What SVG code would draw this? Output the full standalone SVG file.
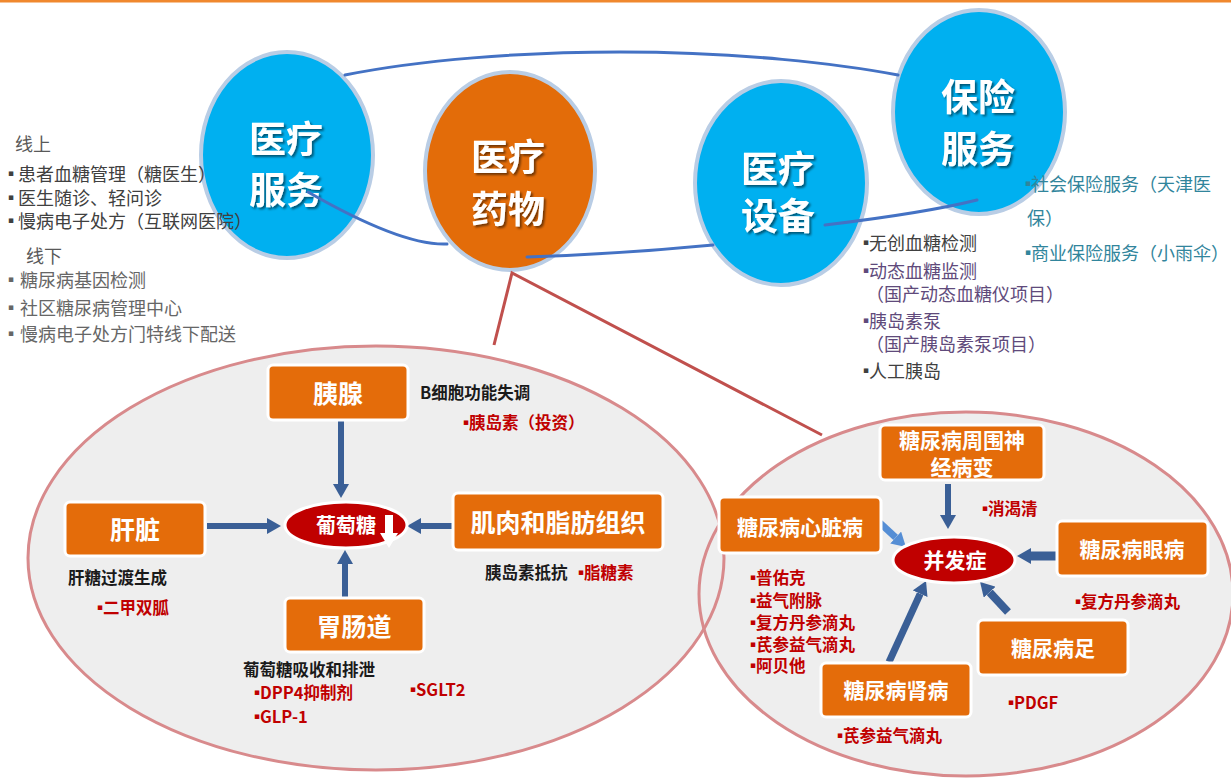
<svg xmlns="http://www.w3.org/2000/svg" width="1231" height="778" viewBox="0 0 1231 778">
<defs>
<style>
text{font-family:"Noto Sans CJK SC","Noto Sans",sans-serif;dominant-baseline:central}
tspan{dominant-baseline:central}
.big{font-size:37px;font-weight:700;fill:#fff;text-anchor:middle}
.bx{fill:#E46C0A;stroke:#fff;stroke-width:3}
.bt{font-size:25px;font-weight:700;fill:#fff;text-anchor:middle}
.bt2{font-size:21px;font-weight:700;fill:#fff;text-anchor:middle}
.lt{font-size:18px;font-weight:400}
.g1{fill:#404040}
.g2{fill:#666666}
.pu{fill:#604A7B}
.te{fill:#31859C}
.bk{font-size:16.5px;font-weight:700;fill:#1a1a1a}
.rd{font-size:16.5px;font-weight:700;fill:#C00000}
.bu{font-family:"DejaVu Sans",sans-serif;font-size:9px}
.arr{stroke:#3A5F96;fill:none}
.arl{stroke:#558ED5;fill:none}
.circ{stroke:#B9CDE5;stroke-width:4}
.blue{stroke:#4472C4;stroke-width:3;fill:none;stroke-linecap:round}
.red{stroke:#C0504D;stroke-width:3;fill:none}
</style>
<filter id="sh" x="-20%" y="-20%" width="140%" height="140%">
<feDropShadow dx="2" dy="2" stdDeviation="1.2" flood-color="#000" flood-opacity="0.5"/>
</filter>
<marker id="ah" viewBox="0 0 14 16" refX="0" refY="8" markerWidth="14" markerHeight="16" markerUnits="userSpaceOnUse" orient="auto">
<path d="M0,0 L14,8 L0,16 Z" fill="#3A5F96"/>
</marker>
<marker id="ahl" viewBox="0 0 14 16" refX="0" refY="8" markerWidth="14" markerHeight="16" markerUnits="userSpaceOnUse" orient="auto">
<path d="M0,0 L14,8 L0,16 Z" fill="#558ED5"/>
</marker>
</defs>
<rect x="0" y="0" width="1231" height="778" fill="#fff"/>
<rect x="0" y="0" width="1231" height="2.5" fill="#F0882E"/>

<!-- lower ellipses -->
<g id="ellipses">
<ellipse cx="966" cy="594" rx="267" ry="182" fill="#EEEEEE"/>
<ellipse cx="376" cy="558" rx="348" ry="212" fill="#EEEEEE"/>
<ellipse cx="966" cy="594" rx="267" ry="182" fill="none" stroke="#D88A8C" stroke-width="3"/>
<ellipse cx="376" cy="558" rx="348" ry="212" fill="none" stroke="#D88A8C" stroke-width="3"/>
</g>

<!-- top circles -->
<g id="n-yiliaofuwu">
<ellipse class="circ" cx="287" cy="155" rx="86" ry="103" fill="#00B0F0"/>
<text class="big" filter="url(#sh)"><tspan x="286" y="137">医疗</tspan><tspan x="286" y="188">服务</tspan></text>
</g>
<g id="n-yiliaoyaowu">
<ellipse class="circ" cx="510" cy="171" rx="85" ry="99" fill="#E36C09"/>
<text class="big" filter="url(#sh)"><tspan x="508" y="155">医疗</tspan><tspan x="508" y="207">药物</tspan></text>
</g>
<g id="n-yiliaoshebei">
<ellipse class="circ" cx="781" cy="183" rx="86" ry="102" fill="#00B0F0"/>
<text class="big" filter="url(#sh)"><tspan x="778" y="167">医疗</tspan><tspan x="778" y="214">设备</tspan></text>
</g>
<g id="n-baoxianfuwu">
<ellipse class="circ" cx="979" cy="112" rx="86" ry="102" fill="#00B0F0"/>
<text class="big" filter="url(#sh)"><tspan x="978" y="95">保险</tspan><tspan x="978" y="147">服务</tspan></text>
</g>

<!-- connectors -->
<g id="connectors">
<path class="blue" d="M345,75 C420,60 520,52 620,52 C740,52 840,64 898,75"/>
<path class="blue" d="M308,192 Q402,246 447,244"/>
<path class="blue" d="M527,257 Q620,254 713,245"/>
<path class="blue" d="M825,225 Q925,213 977,200"/>
<path class="red" d="M494,345 L512,273 L822,435"/>
<line class="arr" x1="341" y1="420" x2="341" y2="484" stroke-width="6" marker-end="url(#ah)"/>
<line class="arr" x1="207" y1="526" x2="267" y2="526" stroke-width="6" marker-end="url(#ah)"/>
<line class="arr" x1="453" y1="526" x2="421" y2="526" stroke-width="6" marker-end="url(#ah)"/>
<line class="arr" x1="345" y1="598" x2="345" y2="564" stroke-width="6" marker-end="url(#ah)"/>
<line class="arr" x1="948" y1="484" x2="948" y2="515" stroke-width="6" marker-end="url(#ah)"/>
<line class="arl" x1="880" y1="523" x2="895.7" y2="537.5" stroke-width="7" marker-end="url(#ahl)"/>
<line class="arr" x1="1058" y1="556" x2="1031" y2="556" stroke-width="9" marker-end="url(#ah)"/>
<line class="arr" x1="1008" y1="612" x2="989.6" y2="592.2" stroke-width="8" marker-end="url(#ah)"/>
<line class="arr" x1="889" y1="662" x2="920.2" y2="593.7" stroke-width="7" marker-end="url(#ah)"/>
</g>

<!-- left ellipse nodes -->
<g id="n-yixian">
<rect class="bx" x="268" y="365" width="140" height="55" rx="5"/>
<text class="bt" x="338" y="392">胰腺</text>
</g>
<g id="n-putaotang">
<ellipse cx="346" cy="525" rx="61" ry="23" fill="#C00000" stroke="#fff" stroke-width="3"/>
<text x="346" y="524" style="font-size:20px;font-weight:700;fill:#fff;text-anchor:middle">葡萄糖</text>
<rect x="385" y="515" width="8" height="19" fill="#fff"/>
<path d="M380,533 L398,533 L389,548 Z" fill="#fff"/>
</g>
<g id="n-ganzang">
<rect class="bx" x="65" y="502" width="140" height="54" rx="5"/>
<text class="bt" x="135" y="528">肝脏</text>
</g>
<g id="n-jirou">
<rect class="bx" x="453" y="493" width="210" height="57" rx="5"/>
<text class="bt" x="558" y="521">肌肉和脂肪组织</text>
</g>
<g id="n-weichangdao">
<rect class="bx" x="285" y="598" width="139" height="54" rx="5"/>
<text class="bt" x="354" y="625">胃肠道</text>
</g>

<!-- right ellipse nodes -->
<g id="n-bingfazheng">
<ellipse cx="954" cy="560" rx="61" ry="23" fill="#C00000" stroke="#fff" stroke-width="3"/>
<text class="bt2" x="955" y="559">并发症</text>
</g>
<g id="n-shenjing">
<rect class="bx" x="880" y="425" width="164" height="55" rx="5"/>
<text class="bt2"><tspan x="962" y="439">糖尿病周围神</tspan><tspan x="962" y="466">经病变</tspan></text>
</g>
<g id="n-xinzang">
<rect class="bx" x="719" y="497" width="162" height="56" rx="5"/>
<text class="bt2" x="800" y="526">糖尿病心脏病</text>
</g>
<g id="n-yanbing">
<rect class="bx" x="1057" y="521" width="151" height="55" rx="5"/>
<text class="bt2" x="1132" y="548">糖尿病眼病</text>
</g>
<g id="n-zu">
<rect class="bx" x="978" y="620" width="150" height="55" rx="5"/>
<text class="bt2" x="1053" y="647">糖尿病足</text>
</g>
<g id="n-shenbing">
<rect class="bx" x="821" y="663" width="150" height="54" rx="5"/>
<text class="bt2" x="896" y="689">糖尿病肾病</text>
</g>

<!-- annotations -->
<g id="t-online">
<text class="lt"><tspan x="15" y="143" fill="#595959">线上</tspan><tspan class="bu g1" x="8" y="173">▪</tspan><tspan class="g1" x="18" y="173">患者血糖管理（糖医生）</tspan><tspan class="bu g1" x="8" y="197">▪</tspan><tspan class="g1" x="18" y="197">医生随诊、轻问诊</tspan><tspan class="bu g1" x="8" y="220">▪</tspan><tspan class="g1" x="18" y="220">慢病电子处方（互联网医院）</tspan><tspan x="26" y="255" fill="#595959">线下</tspan><tspan class="bu g2" x="8" y="279">▪</tspan><tspan class="g2" x="20" y="279">糖尿病基因检测</tspan><tspan class="bu g2" x="8" y="307">▪</tspan><tspan class="g2" x="20" y="307">社区糖尿病管理中心</tspan><tspan class="bu g2" x="8" y="333">▪</tspan><tspan class="g2" x="20" y="333">慢病电子处方门特线下配送</tspan></text>
</g>
<g id="t-device">
<text class="lt"><tspan class="bu g1" x="863" y="242">▪</tspan><tspan class="g1" x="869" y="242">无创血糖检测</tspan><tspan class="bu pu" x="863" y="270">▪</tspan><tspan class="pu" x="869" y="270">动态血糖监测</tspan><tspan class="pu" x="866" y="293">（国产动态血糖仪项目）</tspan><tspan class="bu pu" x="863" y="320">▪</tspan><tspan class="pu" x="869" y="320">胰岛素泵</tspan><tspan class="pu" x="866" y="343">（国产胰岛素泵项目）</tspan><tspan class="bu g1" x="863" y="370">▪</tspan><tspan class="g1" x="869" y="370">人工胰岛</tspan></text>
</g>
<g id="t-insurance">
<text class="lt te"><tspan class="bu" x="1025" y="183">▪</tspan><tspan x="1031" y="183">社会保险服务（天津医</tspan><tspan x="1027" y="217">保）</tspan><tspan class="bu" x="1025" y="252">▪</tspan><tspan x="1031" y="252">商业保险服务（小雨伞）</tspan></text>
</g>
<g id="t-left">
<text class="bk" x="420" y="392">B细胞功能失调</text>
<text class="rd" x="463" y="422"><tspan class="bu">▪</tspan><tspan x="469">胰岛素（投资）</tspan></text>
<text class="bk" x="68" y="577">肝糖过渡生成</text>
<text class="rd" x="97" y="607"><tspan class="bu">▪</tspan><tspan x="103">二甲双胍</tspan></text>
<text class="bk" x="485" y="572">胰岛素抵抗</text>
<text class="rd" x="578" y="572"><tspan class="bu">▪</tspan><tspan x="584">脂糖素</tspan></text>
<text class="bk" x="243" y="669">葡萄糖吸收和排泄</text>
<text class="rd"><tspan class="bu" x="254" y="692">▪</tspan><tspan x="260" y="692">DPP4抑制剂</tspan><tspan class="bu" x="254" y="716">▪</tspan><tspan x="260" y="716">GLP-1</tspan></text>
<text class="rd" x="410" y="689"><tspan class="bu">▪</tspan><tspan x="416">SGLT2</tspan></text>
</g>
<g id="t-right">
<text class="rd" x="982" y="508"><tspan class="bu">▪</tspan><tspan x="988">消渴清</tspan></text>
<text class="rd"><tspan class="bu" x="750" y="577">▪</tspan><tspan x="756" y="577">普佑克</tspan><tspan class="bu" x="750" y="600">▪</tspan><tspan x="756" y="600">益气附脉</tspan><tspan class="bu" x="750" y="622">▪</tspan><tspan x="756" y="622">复方丹参滴丸</tspan><tspan class="bu" x="750" y="644">▪</tspan><tspan x="756" y="644">芪参益气滴丸</tspan><tspan class="bu" x="750" y="665">▪</tspan><tspan x="756" y="665">阿贝他</tspan></text>
<text class="rd" x="1075" y="601"><tspan class="bu">▪</tspan><tspan x="1081">复方丹参滴丸</tspan></text>
<text class="rd" x="1008" y="702"><tspan class="bu">▪</tspan><tspan x="1014">PDGF</tspan></text>
<text class="rd" x="837" y="735"><tspan class="bu">▪</tspan><tspan x="843">芪参益气滴丸</tspan></text>
</g>
</svg>
